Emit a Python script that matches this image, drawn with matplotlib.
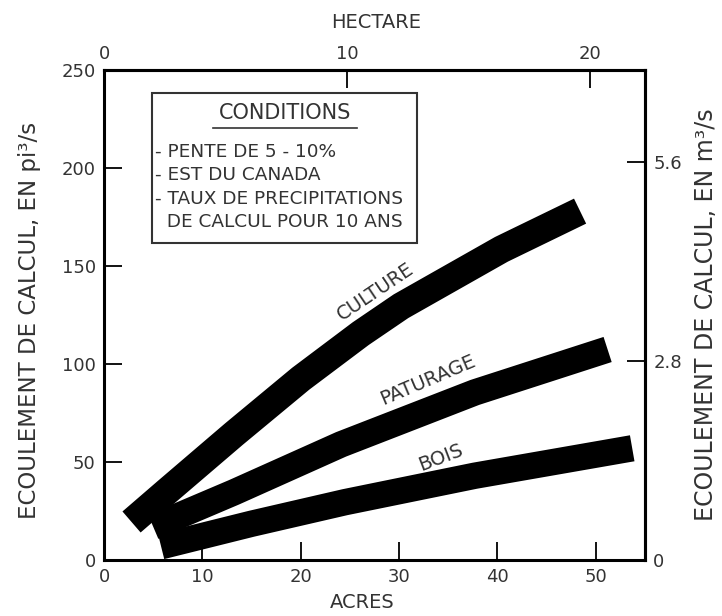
import matplotlib
matplotlib.use('Agg')
import matplotlib.pyplot as plt
from matplotlib.patches import Rectangle
from matplotlib.lines import Line2D

# ---- data (acres, cfs) ----
acres_culture = [2.8, 6.4, 13.2, 20.0, 26.1, 30.2, 40.4, 48.4]
cfs_culture = [19.4, 35.0, 64.2, 92.5, 115.5, 129.5, 158.5, 178.0]
acres_paturage = [5.0, 13.2, 24.1, 37.7, 51.2]
cfs_paturage = [17.0, 34.5, 59.0, 85.5, 107.4]
acres_bois = [5.8, 15.0, 24.5, 37.7, 53.7]
cfs_bois = [7.0, 18.5, 29.5, 43.0, 57.0]

acre_ticks = [0, 10, 20, 30, 40, 50]
cfs_ticks = [0, 50, 100, 150, 200, 250]
hect_ticks = [0, 10, 20]
m3_ticks = [0, 2.8, 5.6]
conditions = ["- PENTE DE 5 - 10%", "- EST DU CANADA",
              "- TAUX DE PRECIPITATIONS", "  DE CALCUL POUR 10 ANS"]

ACRE_PER_HA = 2.471
CFS_PER_M3 = 36.3

W, H = 722, 616
TXT = '#333333'
plt.rcParams['font.family'] = ['DejaVu Sans']

fig = plt.figure(figsize=(W / 100, H / 100), dpi=100)
ax = fig.add_axes([104 / W, 56 / H, 541 / W, 490 / H])
ax.set_xlim(0, 55.0)
ax.set_ylim(0, 250)

for xs, ys, lw in [(acres_bois, cfs_bois, 19),
                   (acres_paturage, cfs_paturage, 19),
                   (acres_culture, cfs_culture, 20)]:
    ax.plot(xs, ys, color='black', lw=lw, solid_capstyle='butt',
            solid_joinstyle='round')

for s in ax.spines.values():
    s.set_linewidth(2.2)
    s.set_color('black')

ax.set_xticks(acre_ticks)
ax.set_yticks(cfs_ticks)
ax.tick_params(direction='in', length=13, width=1.3, colors='black',
               labelcolor=TXT, labelsize=13, pad=6)

top = ax.secondary_xaxis('top', functions=(lambda a: a / ACRE_PER_HA,
                                           lambda h: h * ACRE_PER_HA))
top.set_xticks(hect_ticks)
top.tick_params(direction='in', length=13, width=1.3, labelcolor=TXT,
                labelsize=13, pad=5)
top.spines['top'].set_linewidth(2.2)

right = ax.secondary_yaxis('right', functions=(lambda c: c / CFS_PER_M3,
                                               lambda m: m * CFS_PER_M3))
right.set_yticks(m3_ticks)
right.set_yticklabels(['0', '2.8', '5.6'])
right.tick_params(direction='in', length=13, width=1.3, labelcolor=TXT,
                  labelsize=13, pad=6)
right.spines['right'].set_linewidth(2.2)


def px(x, y):
    return x / W, 1 - y / H


fig.text(*px(376, 22), 'HECTARE', ha='center', va='center', fontsize=14,
         color=TXT)
fig.text(*px(362, 603), 'ACRES', ha='center', va='center', fontsize=14,
         color=TXT)
fig.text(*px(30, 320), 'ECOULEMENT DE CALCUL, EN pi³/s', ha='center',
         va='center', rotation=90, fontsize=16.5, color=TXT)
fig.text(*px(706, 315), 'ECOULEMENT DE CALCUL, EN m³/s', ha='center',
         va='center', rotation=90, fontsize=17, color=TXT)

# curve labels
ax.text(27.6, 137, 'CULTURE', rotation=34, ha='center', va='center',
        rotation_mode='anchor', fontsize=14, color=TXT)
ax.text(32.9, 92, 'PATURAGE', rotation=23, ha='center', va='center',
        rotation_mode='anchor', fontsize=14, color=TXT)
ax.text(34.2, 52.5, 'BOIS', rotation=21, ha='center', va='center',
        rotation_mode='anchor', fontsize=14, color=TXT)

# conditions box
x0, y0 = px(152, 243)
x1, y1 = px(417, 93)
fig.patches.append(Rectangle((x0, y0), x1 - x0, y1 - y0, fill=False,
                             lw=1.5, edgecolor=TXT,
                             transform=fig.transFigure, zorder=5))
fig.text(*px(285, 113), 'CONDITIONS', ha='center', va='center',
         fontsize=15, color=TXT)
ux0, uy = px(213, 128)
ux1, _ = px(357, 128)
fig.lines.append(Line2D([ux0, ux1], [uy, uy], lw=1.2, color=TXT,
                        transform=fig.transFigure))
for i, line in enumerate(conditions):
    fig.text(*px(155, 152 + i * 23.3), line, ha='left', va='center',
             fontsize=13.3, color=TXT)

fig.savefig('out.png', dpi=100)
